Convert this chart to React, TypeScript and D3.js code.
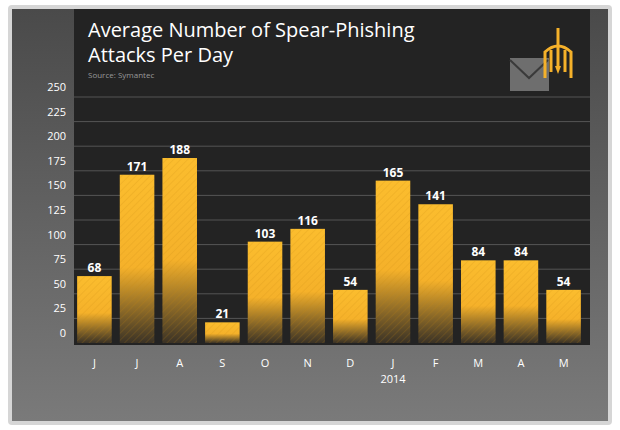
import React from "react";
import * as d3 from "d3";

const months = ["J", "J", "A", "S", "O", "N", "D", "J", "F", "M", "A", "M"];
const attacks = [68, 171, 188, 21, 103, 116, 54, 165, 141, 84, 84, 54];
const yTicks = [0, 25, 50, 75, 100, 125, 150, 175, 200, 225, 250];

const App = () => {
  const x = d3
    .scaleBand<number>()
    .domain(d3.range(months.length))
    .range([75, 583])
    .paddingInner(0.19)
    .paddingOuter(0.05);
  const y = d3.scaleLinear().domain([0, 250]).range([343, 97]);
  const font = "'Open Sans', 'DejaVu Sans', sans-serif";

  return (
    <svg width={620} height={430} style={{ position: "absolute", left: 0, top: 0 }}>
      <defs>
        <linearGradient id="barFill" x1="0" y1="0" x2="0" y2="1" gradientUnits="objectBoundingBox">
          <stop offset="0" stopColor="#fbbd2e" />
          <stop offset="0.55" stopColor="#f5b12a" />
          <stop offset="1" stopColor="#3a3226" />
        </linearGradient>
        <pattern id="hatch" width="5" height="5" patternUnits="userSpaceOnUse" patternTransform="rotate(45)">
          <line x1="0" y1="0" x2="0" y2="5" stroke="#c98a10" strokeWidth="1" strokeOpacity="0.35" />
        </pattern>
        <linearGradient id="bg" x1="0" y1="0" x2="0" y2="1">
          <stop offset="0" stopColor="#4a4a4a" />
          <stop offset="1" stopColor="#7a7a7a" />
        </linearGradient>
      </defs>
      <rect x={8} y={5} width={604} height={420} rx={4} fill="#d6d6d6" />
      <rect x={12} y={9} width={596} height={412} fill="url(#bg)" />
      <rect x={74} y={9} width={516} height={336} fill="#232323" />
      <text x={88} y={37} fill="#fff" fontFamily={font} fontSize={20}>Average Number of Spear-Phishing</text>
      <text x={88} y={62} fill="#fff" fontFamily={font} fontSize={20}>Attacks Per Day</text>
      <text x={88} y={78} fill="#999" fontFamily={font} fontSize={8}>Source: Symantec</text>
      {/* envelope + trident icon */}
      <rect x={510} y={58} width={39} height={33} fill="#6e6e6e" />
      <path d="M510,60 L529,78 L548,60" fill="none" stroke="#3a3a3a" strokeWidth={2} />
      <g stroke="#f5b12a" strokeWidth={3} fill="none">
        <line x1={558} y1={28} x2={558} y2={68} />
        <path d="M545,78 L545,52 Q558,40 571,52 L571,78" />
        <line x1={551} y1={50} x2={551} y2={72} />
        <line x1={565} y1={50} x2={565} y2={72} />
      </g>
      <path d="M555,66 L561,66 L558,74 Z" fill="#f5b12a" />
      {yTicks.map((t) => (
        <g key={t}>
          {t > 0 && <line x1={74} x2={590} y1={y(t)} y2={y(t)} stroke="#555" strokeWidth={1} />}
          <text x={66} y={y(t) - 6} textAnchor="end" fill="#fff" fontFamily={font} fontSize={11}>{t}</text>
        </g>
      ))}
      {attacks.map((v, i) => (
        <g key={i}>
          <rect x={x(i)} y={y(v)} width={x.bandwidth()} height={y(0) - y(v)} fill="url(#barFill)" />
          <rect x={x(i)} y={y(v)} width={x.bandwidth()} height={y(0) - y(v)} fill="url(#hatch)" />
          <text x={x(i)! + x.bandwidth() / 2} y={y(v) - 4} textAnchor="middle" fill="#fff" fontWeight="bold" fontFamily={font} fontSize={12}>{v}</text>
          <text x={x(i)! + x.bandwidth() / 2} y={367} textAnchor="middle" fill="#fff" fontFamily={font} fontSize={11}>{months[i]}</text>
        </g>
      ))}
      <text x={x(7)! + x.bandwidth() / 2} y={383} textAnchor="middle" fill="#fff" fontFamily={font} fontSize={11}>2014</text>
    </svg>
  );
};

export default App;
